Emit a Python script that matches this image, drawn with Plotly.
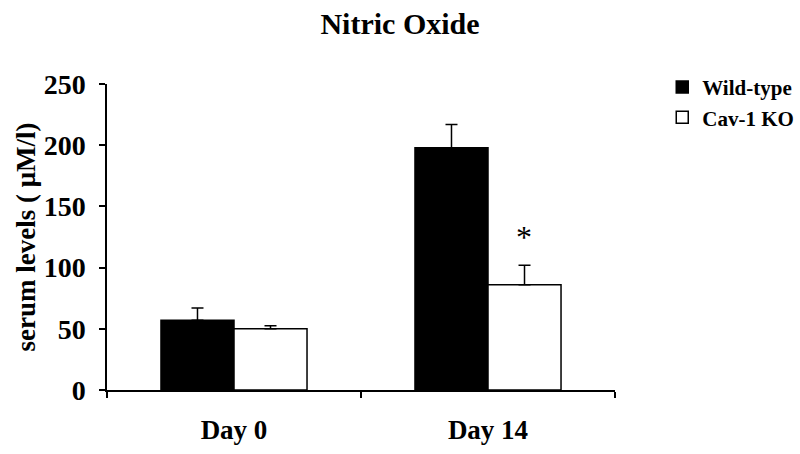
import plotly.graph_objects as go

days = ["Day 0", "Day 14"]
wild_type = [57, 198]
wild_type_err = [10, 19]
cav1_ko = [50, 86]
cav1_ko_err = [2.5, 16]
ko_marks = ["", "*"]

FONT = "Liberation Serif, Times New Roman, serif"

fig = go.Figure()

fig.add_trace(go.Bar(
    x=days, y=wild_type, name="<b>Wild-type</b>",
    marker=dict(color="black", line=dict(color="black", width=1.5)),
    error_y=dict(type="data", array=wild_type_err, arrayminus=[0] * len(days),
                 symmetric=False, color="black", thickness=1.5, width=6),
))
fig.add_trace(go.Bar(
    x=days, y=cav1_ko, name="<b>Cav-1 KO</b>",
    marker=dict(color="white", line=dict(color="black", width=1.5)),
    error_y=dict(type="data", array=cav1_ko_err, arrayminus=[0] * len(days),
                 symmetric=False, color="black", thickness=1.5, width=6),
))

# significance marker above the KO bar
for d, v, e, m in zip(days, cav1_ko, cav1_ko_err, ko_marks):
    if m:
        fig.add_annotation(x=d, y=v + e, text=m, showarrow=False,
                           xshift=36, yshift=28, yanchor="middle",
                           font=dict(family=FONT, size=32, color="black"))

fig.update_layout(
    width=800, height=454,
    margin=dict(l=107, r=185, t=84, b=64, autoexpand=False),
    plot_bgcolor="white", paper_bgcolor="white",
    barmode="group", bargap=0.425, bargroupgap=0,
    font=dict(family=FONT, color="black"),
    title=dict(text="<b>Nitric Oxide</b>", x=0.5, xref="container", xanchor="center",
               y=1 - 23 / 454, yanchor="middle", yref="container",
               font=dict(family=FONT, size=30, color="black")),
    legend=dict(x=1.093, y=1.056, xanchor="left", yanchor="top",
                font=dict(family=FONT, size=21, color="black"),
                bgcolor="rgba(0,0,0,0)", tracegroupgap=0, traceorder="normal"),
    xaxis=dict(showline=True, linecolor="black", linewidth=1.5, ticks="outside",
               tickson="boundaries", ticklen=6, tickcolor="black", tickwidth=1.5,
               showgrid=False, ticklabelstandoff=15, automargin=False,
               tickfont=dict(family=FONT, size=27, color="black"),
               tickprefix="<b>", ticksuffix="</b>"),
    yaxis=dict(range=[0, 250], dtick=50, showline=True, linecolor="black", linewidth=1.5,
               ticks="outside", ticklen=6, tickcolor="black", tickwidth=1.5,
               showgrid=False, zeroline=False, ticklabelstandoff=8, automargin=False,
               tickfont=dict(family=FONT, size=28, color="black"),
               tickprefix="<b>", ticksuffix="</b>",
               title=dict(text="<b>serum levels ( μM/l)</b>", standoff=0,
                          font=dict(family=FONT, size=27, color="black"))),
)

fig.write_html("out.html", config={"displayModeBar": False},
               post_script="document.body.style.margin='0';")
